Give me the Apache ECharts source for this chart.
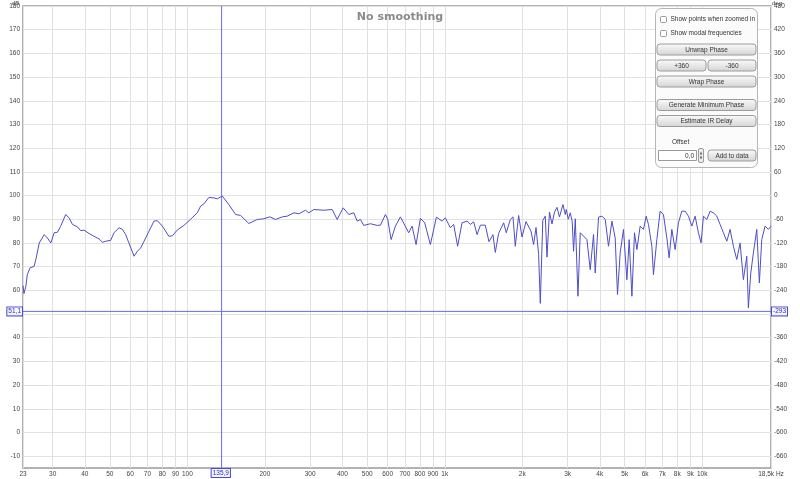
<!DOCTYPE html>
<html><head><meta charset="utf-8">
<script src="https://cdn.jsdelivr.net/npm/echarts@6/dist/echarts.min.js"></script>
<style>html,body{margin:0;padding:0;background:#fff}#c{width:800px;height:479px}</style>
</head><body><div id="c"></div>
<script>
// Frequency response: [frequency Hz, level dB]
const response = [[23,62],[23.2,58.6],[23.6,61.7],[23.9,66.6],[24.5,69.5],[25.4,70.1],[25.8,73],[26.6,80],[27.8,83.5],[28.6,82.1],[29.5,80],[30.4,84.3],[31.3,84.5],[32.2,87],[33.7,92],[34.7,90.6],[35.8,87.8],[37.4,86.8],[38.5,85.2],[39.7,85.4],[41.5,84],[43.4,82.8],[45.4,81.7],[46.8,80.3],[48.2,80.7],[50.4,81.1],[51.9,84.3],[54.3,86.4],[56,85.7],[57.6,83.5],[59.3,80],[62.1,74.4],[64,76.5],[65.9,77.9],[67.9,80.7],[71,85],[74.2,89.2],[76.5,89.4],[80,87.1],[84.8,82.8],[87.5,83],[91.5,85.5],[97,87.4],[103,90],[109.3,92.7],[112.6,95.5],[116,96.5],[121.3,99.2],[126.8,99],[130.8,98.6],[136.7,99.8],[145,96.2],[154,92],[161,91.6],[173.4,88.2],[186.9,89.9],[198.3,90.2],[209.2,91],[220.1,89.9],[233.7,91],[244.3,91.3],[259.3,92.7],[271.1,92.3],[287.8,93.8],[296.4,92.7],[310,94.1],[338.9,93.8],[365.3,94.1],[382.1,89.9],[403.1,94.8],[423.8,92],[443.1,92.7],[456.8,89.2],[470.4,89.9],[484.5,87.4],[514.4,88.1],[546.1,87.4],[562.5,87.5],[588.2,92],[600.4,90],[618.9,81.4],[643.2,87.1],[672.6,91],[724.3,84.3],[746.6,87.1],[773.7,79.3],[804,90.4],[835.6,88.5],[879.2,79.3],[927.8,90.9],[976.1,89.2],[1005,90.6],[1051,86.4],[1083,87.8],[1122,78.6],[1167,88.5],[1221,89.2],[1257,87.8],[1295,88.9],[1335,83.5],[1375,87.5],[1437,87.5],[1485,80.5],[1539,83.5],[1571,76],[1619,84],[1669,87.1],[1693,88.5],[1734,84.3],[1797,89.9],[1841,91],[1879,78.6],[1936,91.6],[1995,82.5],[2068,89],[2162,85],[2213,79.3],[2262,86.5],[2315,75.1],[2350,54.5],[2403,89.5],[2457,91.3],[2495,74],[2551,93],[2609,88],[2668,93],[2728,95],[2790,91],[2878,96.2],[2938,92],[2964,94.1],[3017,90],[3072,92.7],[3126,89],[3164,76.5],[3213,90.2],[3291,57.5],[3359,84.3],[3459,82.9],[3566,81.4],[3673,68.7],[3783,83.6],[3841,67.3],[3957,90.9],[4079,91.3],[4201,89.9],[4325,78.6],[4459,89.2],[4592,82.1],[4687,58.2],[4801,75.8],[4945,85.7],[5098,64.5],[5204,81.4],[5332,57.5],[5457,84.3],[5576,77.2],[5741,87.1],[5913,85.7],[6058,91.3],[6183,87.8],[6373,78.6],[6465,66.6],[6665,81.4],[6864,93.4],[7070,92],[7288,82.1],[7439,73.7],[7621,85.7],[7849,77.2],[8084,88.5],[8333,93.4],[8583,93.4],[8840,91.3],[9113,87.1],[9385,91.3],[9666,84.3],[9901,80],[10108,91.3],[10420,89.9],[10732,93.4],[11053,92.7],[11394,91.3],[11735,87.8],[12087,84.3],[12459,80.7],[12832,85.7],[13216,78.6],[13624,73],[14031,80],[14452,64.5],[14898,74.4],[15112,52.5],[15439,67.3],[15802,75.8],[16289,85.7],[16672,63.1],[17033,81.4],[17544,87.1],[18072,85.7],[18500,87]];

const xTickHz   = [23,30,40,50,60,70,80,90,100,200,300,400,500,600,700,800,900,1000,2000,3000,4000,5000,6000,7000,8000,9000,10000,18500];
const xTickText = ['23','30','40','50','60','70','80','90','100','200','300','400','500','600','700','800','900','1k','2k','3k','4k','5k','6k','7k','8k','9k','10k','18,5k Hz'];
const dbTicks   = [-10,0,10,20,30,40,50,60,70,80,90,100,110,120,130,140,150,160,170,180];
const degTicks  = ['-660','-600','-540','-480','-420','-360','-300','-240','-180','-120','-60','0','60','120','180','240','300','360','420','480'];
const dbMin = -15, dbMax = 180, hzMin = 23, hzMax = 18500;

const cursorHz = 135.9, cursorHzText = '135,9';
const cursorDb = 51.1, cursorDbText = '51,1', cursorDegText = '-293';

const FONT = 'Liberation Sans';
const LAB = {fontFamily: FONT, fontSize: 6.5, color: '#444'};
const CURSOR = '#6a6ae6';
const lg = Math.log10;

const boxLabel = (text, pos) => ({
  show: true, position: pos, distance: 1, formatter: text,
  fontFamily: FONT, fontSize: 6.5, color: '#3030c0',
  backgroundColor: '#f4f4ff', borderColor: '#4a4ad0', borderWidth: 1, padding: [1, 1, 0, 1]
});

function button(x, y, w, h, label) {
  return [
    {type: 'rect', shape: {x: x, y: y, width: w, height: h, r: 3}, z: 100,
     style: {fill: new echarts.graphic.LinearGradient(0, 0, 0, 1, [{offset: 0, color: '#fbfbfb'}, {offset: 1, color: '#d4d4d4'}]), stroke: '#9c9c9c', lineWidth: 1}},
    {type: 'text', x: x + w / 2, y: y + h / 2 + 0.5, z: 101,
     style: {text: label, fontFamily: FONT, fontSize: 6.5, fill: '#333', align: 'center', verticalAlign: 'middle'}}
  ];
}
function checkbox(x, y, label) {
  return [
    {type: 'rect', shape: {x: x, y: y, width: 6, height: 6, r: 1}, z: 100, style: {fill: '#fff', stroke: '#9a9a9a', lineWidth: 1}},
    {type: 'text', x: x + 10, y: y + 3, z: 101, style: {text: label, fontFamily: FONT, fontSize: 6.5, fill: '#333', align: 'left', verticalAlign: 'middle'}}
  ];
}

const graphics = [].concat(
  [{type: 'rect', shape: {x: 655.5, y: 8.5, width: 102, height: 159, r: 6}, z: 99, style: {fill: '#fbfbfb', stroke: '#b5b5b5', lineWidth: 1}}],
  checkbox(660.5, 16.5, 'Show points when zoomed in'),
  checkbox(660.5, 30.5, 'Show modal frequencies'),
  button(657, 44, 99, 11, 'Unwrap Phase'),
  button(657, 60, 49, 11, '+360'),
  button(708, 60, 48, 11, '-360'),
  button(657, 76, 99, 11, 'Wrap Phase'),
  button(657, 99.5, 99, 11, 'Generate Minimum Phase'),
  button(657, 115.5, 99, 11, 'Estimate IR Delay'),
  [{type: 'text', x: 672, y: 142, z: 101, style: {text: 'Offset', fontFamily: FONT, fontSize: 6.5, fill: '#333', align: 'left', verticalAlign: 'middle'}},
   {type: 'rect', shape: {x: 658.5, y: 150.5, width: 38, height: 10}, z: 100, style: {fill: '#fff', stroke: '#9a9a9a', lineWidth: 1}},
   {type: 'text', x: 694, y: 156, z: 101, style: {text: '0,0', fontFamily: FONT, fontSize: 6.5, fill: '#333', align: 'right', verticalAlign: 'middle'}},
   {type: 'rect', shape: {x: 698.5, y: 148.5, width: 5, height: 14, r: 1.5}, z: 100, style: {fill: '#eee', stroke: '#9a9a9a', lineWidth: 1}},
   {type: 'polygon', shape: {points: [[699.8, 154.5], [702.2, 154.5], [701, 151.5]]}, z: 101, style: {fill: '#555'}},
   {type: 'polygon', shape: {points: [[699.8, 156.5], [702.2, 156.5], [701, 159.5]]}, z: 101, style: {fill: '#555'}}],
  button(708, 150, 48, 11, 'Add to data'),
  [{type: 'text', x: 12, y: 3, z: 101, style: {text: 'dB', fontFamily: FONT, fontSize: 6, fill: '#444', align: 'left', verticalAlign: 'middle'}},
   {type: 'text', x: 772, y: 3, z: 101, style: {text: 'deg', fontFamily: FONT, fontSize: 6, fill: '#444', align: 'left', verticalAlign: 'middle'}}]
);

const cursorSeries = (data) => ({
  type: 'line', data: data, showSymbol: false, symbol: 'none', silent: true, z: 4,
  color: CURSOR, lineStyle: {color: CURSOR, width: 1}, emphasis: {disabled: true}
});

const chart = echarts.init(document.getElementById('c'), null, {renderer: 'canvas'});
chart.setOption({
  backgroundColor: '#fff',
  animation: false,
  title: {text: 'No smoothing', left: 'center', top: 7,
          textStyle: {fontFamily: 'DejaVu Sans', fontSize: 11, fontWeight: 'bold', color: '#8a8a8a'}},
  grid: {left: 23, right: 29, top: 6, bottom: 11, show: true, borderColor: '#9a9a9a', borderWidth: 1.5,
         backgroundColor: '#fff', outerBoundsMode: 'none', containLabel: false},
  xAxis: {
    type: 'value', min: lg(hzMin), max: lg(hzMax),
    axisLine: {show: false}, axisTick: {show: false, customValues: xTickHz.map(lg)},
    axisLabel: Object.assign({}, LAB, {margin: 3, customValues: xTickHz.map(lg),
      formatter: v => { const i = xTickHz.findIndex(h => Math.abs(lg(h) - v) < 1e-6); return i >= 0 ? xTickText[i] : ''; }}),
    splitLine: {show: true, lineStyle: {color: '#e0e0e0', width: 1}}
  },
  yAxis: [{
    type: 'value', min: dbMin, max: dbMax, position: 'left',
    axisLine: {show: false}, axisTick: {show: false, customValues: dbTicks},
    axisLabel: Object.assign({}, LAB, {margin: 3, customValues: dbTicks, formatter: v => String(v)}),
    splitLine: {show: true, lineStyle: {color: '#e2e2e2', width: 1}}
  }, {
    type: 'value', min: dbMin, max: dbMax, position: 'right',
    axisLine: {show: false}, axisTick: {show: false, customValues: dbTicks},
    axisLabel: Object.assign({}, LAB, {margin: 3, customValues: dbTicks,
      formatter: v => { const i = dbTicks.indexOf(Math.round(v)); return i >= 0 ? degTicks[i] : ''; }}),
    splitLine: {show: false}
  }],
  graphic: graphics,
  series: [{
    type: 'line', name: 'response', xAxisIndex: 0, yAxisIndex: 0,
    data: response.map(p => [lg(p[0]), p[1]]),
    showSymbol: false, symbol: 'none', smooth: false,
    color: '#4e4ec8',
    lineStyle: {color: '#4e4ec8', width: 1},
    z: 3
  },
  cursorSeries([[lg(cursorHz), dbMin], [lg(cursorHz), dbMax]]),
  Object.assign(cursorSeries([[lg(hzMin), cursorDb], [lg(hzMax), cursorDb]]), {
    z: 5,
    markLine: {
      silent: true, symbol: ['none', 'none'], animation: false,
      lineStyle: {color: 'rgba(255,255,255,0)', width: 1, type: 'solid'},
      data: [
        {xAxis: lg(cursorHz), label: boxLabel(cursorHzText, 'start')},
        {yAxis: cursorDb, label: boxLabel(cursorDbText, 'start')},
        {yAxis: cursorDb, label: boxLabel(cursorDegText, 'end')}
      ]
    }
  })
  ]
});
</script></body></html>
